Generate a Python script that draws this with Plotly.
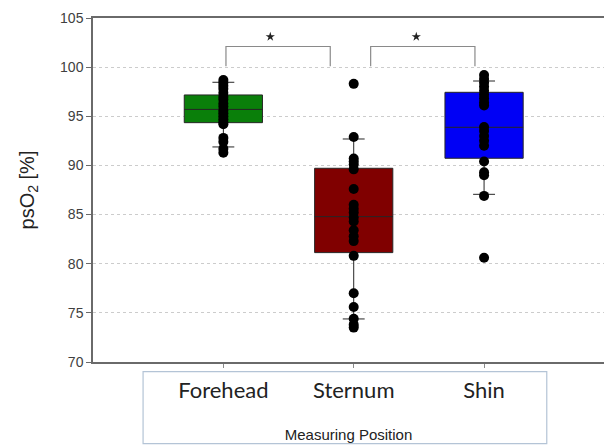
import plotly.graph_objects as go

categories = ["Forehead", "Sternum", "Shin"]
box_colors = ["#0a7f0a", "#800000", "#0000f5"]

# box statistics (whiskers = 10th/90th percentile style)
q1 = [94.35, 81.13, 90.73]
median = [95.70, 84.79, 93.88]
q3 = [97.17, 89.71, 97.44]
lower_whisker = [91.88, 74.38, 87.06]
upper_whisker = [98.46, 92.69, 98.59]

forehead_pts = [98.7, 98.4, 98.1, 97.8, 97.4, 97.0, 96.7, 96.3, 96.0, 95.6,
                95.3, 95.0, 94.7, 94.4, 94.2, 92.8, 92.4, 91.7, 91.3]
sternum_pts = [98.3, 92.9, 90.7, 90.4, 90.1, 89.6, 87.6, 86.0, 85.6, 85.2,
               84.7, 84.3, 83.4, 82.8, 82.3, 80.8, 77.0, 75.6, 74.4, 73.8, 73.5]
shin_pts = [99.2, 98.8, 98.4, 98.0, 97.6, 97.2, 96.8, 96.4, 96.1, 93.9,
            93.5, 93.0, 92.5, 92.0, 90.4, 89.3, 89.0, 86.9, 80.6]
points = [forehead_pts, sternum_pts, shin_pts]

y_ticks = [70, 75, 80, 85, 90, 95, 100, 105]

# significance brackets: (x_left, x_right, y_top, y_leg_bottom), star position
brackets = [(0.02, 0.82, 102.1, 100.1), (1.13, 1.93, 102.1, 100.1)]
stars_x = [0.36, 1.48]
stars_y = [103.1, 103.1]

fig = go.Figure()

for i, cat in enumerate(categories):
    fig.add_trace(go.Box(
        x=[cat], q1=[q1[i]], median=[median[i]], q3=[q3[i]],
        lowerfence=[lower_whisker[i]], upperfence=[upper_whisker[i]],
        fillcolor=box_colors[i], line=dict(color="#262626", width=1),
        width=0.6, whiskerwidth=0.28, boxpoints=False, showlegend=False,
        hoverinfo="skip",
    ))

for i, cat in enumerate(categories):
    fig.add_trace(go.Scatter(
        x=[cat] * len(points[i]), y=points[i], mode="markers",
        marker=dict(color="black", size=10), showlegend=False,
    ))

# stars
fig.add_trace(go.Scatter(
    x=stars_x, y=stars_y, mode="markers", xaxis="x2",
    marker=dict(symbol="star", size=7, color="#222222"), showlegend=False,
))

shapes = []
for (xl, xr, yt, yb) in brackets:
    shapes.append(dict(type="path", xref="x2", yref="y",
                       path=f"M {xl},{yb} L {xl},{yt} L {xr},{yt} L {xr},{yb}",
                       line=dict(color="#8a8a8a", width=1.2)))
# container frame around category labels
shapes.append(dict(type="rect", xref="paper", yref="paper",
                   x0=0.098, x1=0.888, y0=-0.237, y1=-0.028,
                   line=dict(color="#b4c4d6", width=1.2)))

fig.update_layout(
    width=604, height=446,
    margin=dict(l=93, r=0, t=18, b=84),
    paper_bgcolor="white", plot_bgcolor="white",
    boxmode="overlay",
    shapes=shapes,
    font=dict(family="Liberation Sans, Arial", color="#333333"),
    xaxis=dict(
        type="category", categoryorder="array", categoryarray=categories,
        range=[-1.0, 2.92], showgrid=False,
        showline=True, linecolor="#6a6a6a", linewidth=1.5, mirror=True,
        ticks="outside", ticklen=4, tickcolor="#8a8a8a",
        tickfont=dict(family="Lato, Carlito, Calibri", size=22, color="#222222"),
        ticklabelstandoff=4,
        title=dict(text="Measuring Position", standoff=27,
                   font=dict(family="Liberation Sans, Arial", size=15, color="#222222")),
    ),
    xaxis2=dict(overlaying="x", range=[-1.0, 2.92], visible=False),
    yaxis=dict(
        range=[70, 105], tickvals=y_ticks,
        showline=True, linecolor="#6a6a6a", linewidth=1.5,
        ticks="outside", ticklen=5, tickcolor="#6a6a6a",
        tickfont=dict(size=14, color="#404040"),
        showgrid=True, gridcolor="#cccccc", griddash="dot", gridwidth=1,
        zeroline=False,
        title=dict(text="psO<sub>2</sub> [%]", standoff=20,
                   font=dict(size=20, color="#222222")),
    ),
)

fig.write_html("out.html",
               config={"displayModeBar": False},
               post_script="document.body.style.margin='0';document.body.style.overflow='hidden';")
